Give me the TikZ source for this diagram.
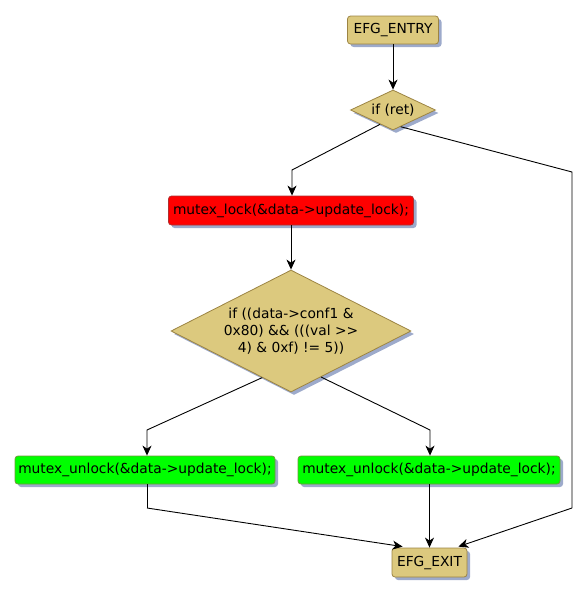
\documentclass[tikz,border=0pt]{standalone}
\usepackage{fontspec}
\setmainfont[Ligatures=NoCommon]{DejaVu Sans}
\usetikzlibrary{shapes.geometric,shadows,arrows.meta,calc}
\definecolor{tan}{HTML}{DCC97E}
\definecolor{tanline}{HTML}{9C8443}
\definecolor{shad}{HTML}{9DAACB}
\definecolor{gline}{HTML}{6E9A3A}
\definecolor{rline}{HTML}{B03030}
\begin{document}
\begin{tikzpicture}[x=1pt,y=-1pt,
  every node/.style={font=\fontsize{13.8}{17}\selectfont, text=black, align=center},
  sh/.style={general shadow={fill=shad, shadow xshift=3pt, shadow yshift=-3pt}},
  box/.style={rectangle, rounded corners=3pt, draw=tanline, fill=tan, line width=0.8pt, sh, inner sep=0pt},
  dia/.style={diamond, draw=tanline, fill=tan, line width=0.8pt, sh, inner sep=0pt},
  arr/.style={-{Stealth[length=10pt,width=9pt,inset=3pt]}, line width=0.9pt, black},
  ln/.style={line width=0.9pt, black}]
\useasboundingbox (0,0) rectangle (587,597);
\node[box, minimum width=91pt, minimum height=28pt] (entry) at (393,30) {EFG\_ENTRY};
\node[dia, minimum width=85pt, minimum height=40pt, aspect=2.1] (d1) at (393,110) {if (ret)};
\node[box, fill=red, draw=rline, minimum width=245pt, minimum height=29pt] (lock) at (291,210.5) {mutex\_lock(\&data-{}>update\_lock);};
\node[dia, minimum width=240pt, minimum height=122pt, aspect=2] (d2) at (291,331) {if ((data-{}>conf1 \&\\0x80) \&\& (((val >{}>\\4) \& 0xf) != 5))};
\node[box, fill=green, draw=gline, minimum width=260pt, minimum height=28pt] (u1) at (145,470) {mutex\_unlock(\&data-{}>update\_lock);};
\node[box, fill=green, draw=gline, minimum width=262pt, minimum height=28pt] (u2) at (429,470) {mutex\_unlock(\&data-{}>update\_lock);};
\node[box, minimum width=75pt, minimum height=29pt] (exit) at (429.5,562.5) {EFG\_EXIT};
\coordinate (b1) at (292,170);
\coordinate (b2) at (572,172);
\coordinate (b3) at (572,508);
\coordinate (b4) at (147,430);
\coordinate (b5) at (430,430);
\coordinate (b6) at (147,508);
\draw[arr] (entry) -- (d1);
\draw[arr] ($(d1.south)!0.3!(d1.west)$) -- (b1) -- (b1 |- lock.north);
\draw[ln] ($(d1.south)!0.18!(d1.east)$) -- (b2) -- (b3);
\draw[arr] (b3) -- ($(exit.north east)+(-9,-1)$);
\draw[arr] (lock) -- (d2);
\draw[arr] ($(d2.south)!0.24!(d2.west)$) -- (b4) -- (b4 |- u1.north);
\draw[arr] ($(d2.south)!0.25!(d2.east)$) -- (b5) -- (b5 |- u2.north);
\draw[ln] (u1.south -| b6) -- (b6);
\draw[arr] (b6) -- ($(exit.north west)+(11,-1)$);
\draw[arr] (u2.south -| exit.north) -- (exit.north);
\end{tikzpicture}
\end{document}
